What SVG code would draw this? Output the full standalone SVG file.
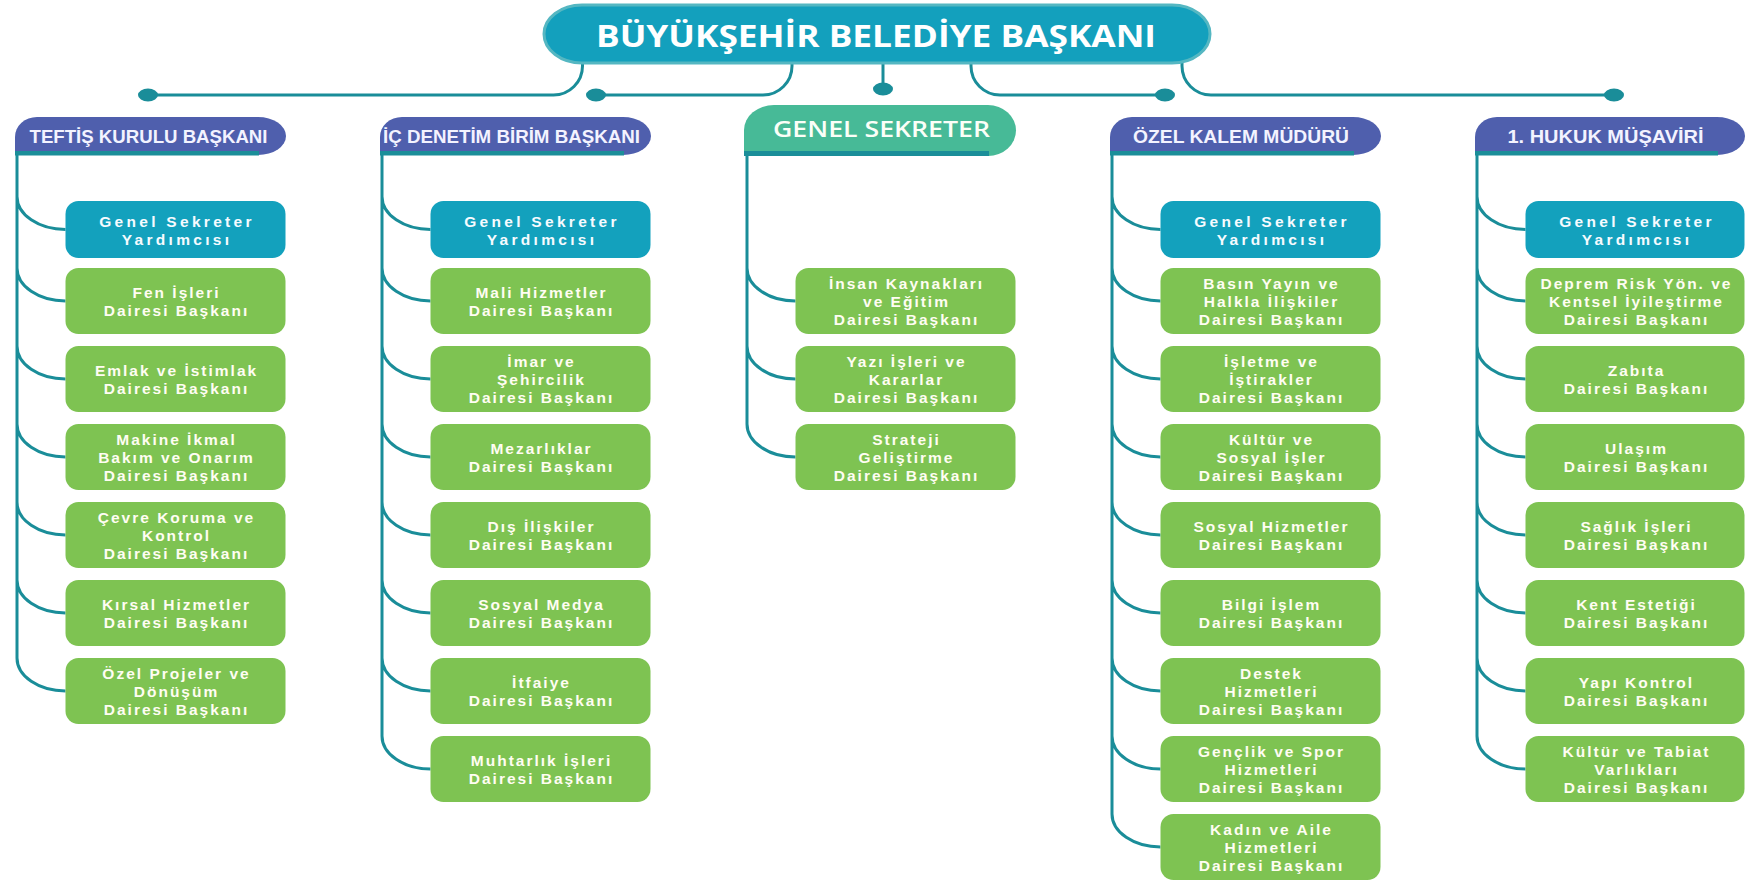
<svg xmlns="http://www.w3.org/2000/svg" width="1745" height="881" viewBox="0 0 1745 881">
<style>
.ln{fill:none;stroke:#1a8d99;stroke-width:3}
.dot{fill:#1a8d99}
.gsy{fill:#13a1bd}
.gb{fill:#7ec352}
.hdr{fill:#4f5fad}
.ul{fill:#1b8e99}
.t{font-family:"Liberation Sans",Arial,sans-serif;font-weight:bold;font-size:15.5px;fill:#fffdf2;text-anchor:middle;letter-spacing:2px}
.ty{font-family:"Liberation Sans",Arial,sans-serif;font-weight:bold;font-size:15.5px;fill:#f6fbff;text-anchor:middle;letter-spacing:3.3px}
.h{font-family:"Liberation Sans",Arial,sans-serif;font-weight:bold;font-size:17.5px;fill:#f3f3ff;text-anchor:middle}
</style>
<rect width="1745" height="881" fill="#ffffff"/>
<g id="connectors">
<path class="ln" d="M582.5,63 V66 A29,29 0 0 1 553.5,95 H148"/>
<path class="ln" d="M792,63 V66 A29,29 0 0 1 763,95 H596"/>
<path class="ln" d="M883,63 V88"/>
<path class="ln" d="M971,63 V66 A29,29 0 0 0 1000,95 H1165"/>
<path class="ln" d="M1182,63 V66 A29,29 0 0 0 1211,95 H1614"/>
<ellipse class="dot" cx="148" cy="95" rx="10" ry="6.5"/>
<ellipse class="dot" cx="596" cy="95" rx="10" ry="6.5"/>
<ellipse class="dot" cx="883" cy="89" rx="10" ry="6.5"/>
<ellipse class="dot" cx="1165" cy="95" rx="10" ry="6.5"/>
<ellipse class="dot" cx="1614" cy="95" rx="10" ry="6.5"/>
<path class="ln" d="M17,155 V658 M17,196.5 A48.5,33 0 0 0 65.5,229.5 M17,268 A48.5,33 0 0 0 65.5,301 M17,346 A48.5,33 0 0 0 65.5,379 M17,424 A48.5,33 0 0 0 65.5,457 M17,502 A48.5,33 0 0 0 65.5,535 M17,580 A48.5,33 0 0 0 65.5,613 M17,658 A48.5,33 0 0 0 65.5,691"/>
<path class="ln" d="M382,155 V736 M382,196.5 A48.5,33 0 0 0 430.5,229.5 M382,268 A48.5,33 0 0 0 430.5,301 M382,346 A48.5,33 0 0 0 430.5,379 M382,424 A48.5,33 0 0 0 430.5,457 M382,502 A48.5,33 0 0 0 430.5,535 M382,580 A48.5,33 0 0 0 430.5,613 M382,658 A48.5,33 0 0 0 430.5,691 M382,736 A48.5,33 0 0 0 430.5,769"/>
<path class="ln" d="M747,155 V424 M747,268 A48.5,33 0 0 0 795.5,301 M747,346 A48.5,33 0 0 0 795.5,379 M747,424 A48.5,33 0 0 0 795.5,457"/>
<path class="ln" d="M1112,155 V814 M1112,196.5 A48.5,33 0 0 0 1160.5,229.5 M1112,268 A48.5,33 0 0 0 1160.5,301 M1112,346 A48.5,33 0 0 0 1160.5,379 M1112,424 A48.5,33 0 0 0 1160.5,457 M1112,502 A48.5,33 0 0 0 1160.5,535 M1112,580 A48.5,33 0 0 0 1160.5,613 M1112,658 A48.5,33 0 0 0 1160.5,691 M1112,736 A48.5,33 0 0 0 1160.5,769 M1112,814 A48.5,33 0 0 0 1160.5,847"/>
<path class="ln" d="M1477,155 V736 M1477,196.5 A48.5,33 0 0 0 1525.5,229.5 M1477,268 A48.5,33 0 0 0 1525.5,301 M1477,346 A48.5,33 0 0 0 1525.5,379 M1477,424 A48.5,33 0 0 0 1525.5,457 M1477,502 A48.5,33 0 0 0 1525.5,535 M1477,580 A48.5,33 0 0 0 1525.5,613 M1477,658 A48.5,33 0 0 0 1525.5,691 M1477,736 A48.5,33 0 0 0 1525.5,769"/>
</g>

<g id="baskan">
<rect x="544" y="5" width="666" height="58" rx="38" ry="29" fill="#13a0bd" stroke="#55b7c2" stroke-width="3"/>
<text x="876" y="46.5" textLength="560" lengthAdjust="spacingAndGlyphs" style="font-family:'Open Sans','Liberation Sans',sans-serif;font-weight:bold;font-size:30px;fill:#ffffff;text-anchor:middle">BÜYÜKŞEHİR BELEDİYE BAŞKANI</text>
</g>

<g id="teftis">
<path class="hdr" d="M15,155 V137 A22,20 0 0 1 37,117 H258 A28,19 0 0 1 258,155 Z"/>
<rect class="ul" x="15" y="151" width="244" height="4.5"/>
<text class="h" x="148.5" y="143" textLength="238" lengthAdjust="spacingAndGlyphs">TEFTİŞ KURULU BAŞKANI</text>
</g>
<g id="icdenetim">
<path class="hdr" d="M380,155 V137 A22,20 0 0 1 402,117 H623 A28,19 0 0 1 623,155 Z"/>
<rect class="ul" x="380" y="151" width="244" height="4.5"/>
<text class="h" x="511.5" y="143" textLength="257" lengthAdjust="spacingAndGlyphs">İÇ DENETİM BİRİM BAŞKANI</text>
</g>
<g id="genelsekreter">
<path d="M744,156 V130 A30,25 0 0 1 774,105 H988 A28,25.5 0 0 1 988,156 Z" fill="#47ba97"/>
<rect class="ul" x="744" y="151" width="245" height="5"/>
<text x="881.5" y="137" textLength="217" lengthAdjust="spacingAndGlyphs" style="font-family:'Open Sans','Liberation Sans',sans-serif;font-weight:600;font-size:22px;fill:#fbfff8;text-anchor:middle">GENEL SEKRETER</text>
</g>
<g id="ozelkalem">
<path class="hdr" d="M1110,155 V137 A22,20 0 0 1 1132,117 H1353 A28,19 0 0 1 1353,155 Z"/>
<rect class="ul" x="1110" y="151" width="244" height="4.5"/>
<text class="h" x="1241" y="143" textLength="216" lengthAdjust="spacingAndGlyphs">ÖZEL KALEM MÜDÜRÜ</text>
</g>
<g id="hukuk">
<path class="hdr" d="M1475,155 V137 A22,20 0 0 1 1497,117 H1717 A28,19 0 0 1 1717,155 Z"/>
<rect class="ul" x="1475" y="151" width="243" height="4.5"/>
<text class="h" x="1605.5" y="143" textLength="196" lengthAdjust="spacingAndGlyphs">1. HUKUK MÜŞAVİRİ</text>
</g>

<!-- Column 1: Teftis -->
<g id="c1-gsy"><rect class="gsy" x="65.5" y="201" width="220" height="57" rx="13"/><text class="ty"><tspan x="177" y="226.5">Genel Sekreter</tspan><tspan x="177" y="244.5">Yardımcısı</tspan></text></g>
<g id="c1-fen"><rect class="gb" x="65.5" y="268" width="220" height="66" rx="13"/><text class="t"><tspan x="176.5" y="298">Fen İşleri</tspan><tspan x="176.5" y="316">Dairesi Başkanı</tspan></text></g>
<g id="c1-emlak"><rect class="gb" x="65.5" y="346" width="220" height="66" rx="13"/><text class="t"><tspan x="176.5" y="376">Emlak ve İstimlak</tspan><tspan x="176.5" y="394">Dairesi Başkanı</tspan></text></g>
<g id="c1-makine"><rect class="gb" x="65.5" y="424" width="220" height="66" rx="13"/><text class="t"><tspan x="176.5" y="445">Makine İkmal</tspan><tspan x="176.5" y="463">Bakım ve Onarım</tspan><tspan x="176.5" y="481">Dairesi Başkanı</tspan></text></g>
<g id="c1-cevre"><rect class="gb" x="65.5" y="502" width="220" height="66" rx="13"/><text class="t"><tspan x="176.5" y="523">Çevre Koruma ve</tspan><tspan x="176.5" y="541">Kontrol</tspan><tspan x="176.5" y="559">Dairesi Başkanı</tspan></text></g>
<g id="c1-kirsal"><rect class="gb" x="65.5" y="580" width="220" height="66" rx="13"/><text class="t"><tspan x="176.5" y="610">Kırsal Hizmetler</tspan><tspan x="176.5" y="628">Dairesi Başkanı</tspan></text></g>
<g id="c1-ozelprojeler"><rect class="gb" x="65.5" y="658" width="220" height="66" rx="13"/><text class="t"><tspan x="176.5" y="679">Özel Projeler ve</tspan><tspan x="176.5" y="697">Dönüşüm</tspan><tspan x="176.5" y="715">Dairesi Başkanı</tspan></text></g>

<!-- Column 2: Ic Denetim -->
<g id="c2-gsy"><rect class="gsy" x="430.5" y="201" width="220" height="57" rx="13"/><text class="ty"><tspan x="542" y="226.5">Genel Sekreter</tspan><tspan x="542" y="244.5">Yardımcısı</tspan></text></g>
<g id="c2-mali"><rect class="gb" x="430.5" y="268" width="220" height="66" rx="13"/><text class="t"><tspan x="541.5" y="298">Mali Hizmetler</tspan><tspan x="541.5" y="316">Dairesi Başkanı</tspan></text></g>
<g id="c2-imar"><rect class="gb" x="430.5" y="346" width="220" height="66" rx="13"/><text class="t"><tspan x="541.5" y="367">İmar ve</tspan><tspan x="541.5" y="385">Şehircilik</tspan><tspan x="541.5" y="403">Dairesi Başkanı</tspan></text></g>
<g id="c2-mezarlik"><rect class="gb" x="430.5" y="424" width="220" height="66" rx="13"/><text class="t"><tspan x="541.5" y="454">Mezarlıklar</tspan><tspan x="541.5" y="472">Dairesi Başkanı</tspan></text></g>
<g id="c2-dis"><rect class="gb" x="430.5" y="502" width="220" height="66" rx="13"/><text class="t"><tspan x="541.5" y="532">Dış İlişkiler</tspan><tspan x="541.5" y="550">Dairesi Başkanı</tspan></text></g>
<g id="c2-sosyalmedya"><rect class="gb" x="430.5" y="580" width="220" height="66" rx="13"/><text class="t"><tspan x="541.5" y="610">Sosyal Medya</tspan><tspan x="541.5" y="628">Dairesi Başkanı</tspan></text></g>
<g id="c2-itfaiye"><rect class="gb" x="430.5" y="658" width="220" height="66" rx="13"/><text class="t"><tspan x="541.5" y="688">İtfaiye</tspan><tspan x="541.5" y="706">Dairesi Başkanı</tspan></text></g>
<g id="c2-muhtarlik"><rect class="gb" x="430.5" y="736" width="220" height="66" rx="13"/><text class="t"><tspan x="541.5" y="766">Muhtarlık İşleri</tspan><tspan x="541.5" y="784">Dairesi Başkanı</tspan></text></g>

<!-- Column 3: Genel Sekreter -->
<g id="c3-insan"><rect class="gb" x="795.5" y="268" width="220" height="66" rx="13"/><text class="t"><tspan x="906.5" y="289">İnsan Kaynakları</tspan><tspan x="906.5" y="307">ve Eğitim</tspan><tspan x="906.5" y="325">Dairesi Başkanı</tspan></text></g>
<g id="c3-yazi"><rect class="gb" x="795.5" y="346" width="220" height="66" rx="13"/><text class="t"><tspan x="906.5" y="367">Yazı İşleri ve</tspan><tspan x="906.5" y="385">Kararlar</tspan><tspan x="906.5" y="403">Dairesi Başkanı</tspan></text></g>
<g id="c3-strateji"><rect class="gb" x="795.5" y="424" width="220" height="66" rx="13"/><text class="t"><tspan x="906.5" y="445">Strateji</tspan><tspan x="906.5" y="463">Geliştirme</tspan><tspan x="906.5" y="481">Dairesi Başkanı</tspan></text></g>

<!-- Column 4: Ozel Kalem -->
<g id="c4-gsy"><rect class="gsy" x="1160.5" y="201" width="220" height="57" rx="13"/><text class="ty"><tspan x="1272" y="226.5">Genel Sekreter</tspan><tspan x="1272" y="244.5">Yardımcısı</tspan></text></g>
<g id="c4-basin"><rect class="gb" x="1160.5" y="268" width="220" height="66" rx="13"/><text class="t"><tspan x="1271.5" y="289">Basın Yayın ve</tspan><tspan x="1271.5" y="307">Halkla İlişkiler</tspan><tspan x="1271.5" y="325">Dairesi Başkanı</tspan></text></g>
<g id="c4-isletme"><rect class="gb" x="1160.5" y="346" width="220" height="66" rx="13"/><text class="t"><tspan x="1271.5" y="367">İşletme ve</tspan><tspan x="1271.5" y="385">İştirakler</tspan><tspan x="1271.5" y="403">Dairesi Başkanı</tspan></text></g>
<g id="c4-kultur"><rect class="gb" x="1160.5" y="424" width="220" height="66" rx="13"/><text class="t"><tspan x="1271.5" y="445">Kültür ve</tspan><tspan x="1271.5" y="463">Sosyal İşler</tspan><tspan x="1271.5" y="481">Dairesi Başkanı</tspan></text></g>
<g id="c4-sosyalhizmet"><rect class="gb" x="1160.5" y="502" width="220" height="66" rx="13"/><text class="t"><tspan x="1271.5" y="532">Sosyal Hizmetler</tspan><tspan x="1271.5" y="550">Dairesi Başkanı</tspan></text></g>
<g id="c4-bilgi"><rect class="gb" x="1160.5" y="580" width="220" height="66" rx="13"/><text class="t"><tspan x="1271.5" y="610">Bilgi İşlem</tspan><tspan x="1271.5" y="628">Dairesi Başkanı</tspan></text></g>
<g id="c4-destek"><rect class="gb" x="1160.5" y="658" width="220" height="66" rx="13"/><text class="t"><tspan x="1271.5" y="679">Destek</tspan><tspan x="1271.5" y="697">Hizmetleri</tspan><tspan x="1271.5" y="715">Dairesi Başkanı</tspan></text></g>
<g id="c4-genclik"><rect class="gb" x="1160.5" y="736" width="220" height="66" rx="13"/><text class="t"><tspan x="1271.5" y="757">Gençlik ve Spor</tspan><tspan x="1271.5" y="775">Hizmetleri</tspan><tspan x="1271.5" y="793">Dairesi Başkanı</tspan></text></g>
<g id="c4-kadin"><rect class="gb" x="1160.5" y="814" width="220" height="66" rx="13"/><text class="t"><tspan x="1271.5" y="835">Kadın ve Aile</tspan><tspan x="1271.5" y="853">Hizmetleri</tspan><tspan x="1271.5" y="871">Dairesi Başkanı</tspan></text></g>

<!-- Column 5: Hukuk -->
<g id="c5-gsy"><rect class="gsy" x="1525.5" y="201" width="219" height="57" rx="13"/><text class="ty"><tspan x="1637" y="226.5">Genel Sekreter</tspan><tspan x="1637" y="244.5">Yardımcısı</tspan></text></g>
<g id="c5-deprem"><rect class="gb" x="1525.5" y="268" width="219" height="66" rx="13"/><text class="t"><tspan x="1636.5" y="289">Deprem Risk Yön. ve</tspan><tspan x="1636.5" y="307">Kentsel İyileştirme</tspan><tspan x="1636.5" y="325">Dairesi Başkanı</tspan></text></g>
<g id="c5-zabita"><rect class="gb" x="1525.5" y="346" width="219" height="66" rx="13"/><text class="t"><tspan x="1636.5" y="376">Zabıta</tspan><tspan x="1636.5" y="394">Dairesi Başkanı</tspan></text></g>
<g id="c5-ulasim"><rect class="gb" x="1525.5" y="424" width="219" height="66" rx="13"/><text class="t"><tspan x="1636.5" y="454">Ulaşım</tspan><tspan x="1636.5" y="472">Dairesi Başkanı</tspan></text></g>
<g id="c5-saglik"><rect class="gb" x="1525.5" y="502" width="219" height="66" rx="13"/><text class="t"><tspan x="1636.5" y="532">Sağlık İşleri</tspan><tspan x="1636.5" y="550">Dairesi Başkanı</tspan></text></g>
<g id="c5-kent"><rect class="gb" x="1525.5" y="580" width="219" height="66" rx="13"/><text class="t"><tspan x="1636.5" y="610">Kent Estetiği</tspan><tspan x="1636.5" y="628">Dairesi Başkanı</tspan></text></g>
<g id="c5-yapi"><rect class="gb" x="1525.5" y="658" width="219" height="66" rx="13"/><text class="t"><tspan x="1636.5" y="688">Yapı Kontrol</tspan><tspan x="1636.5" y="706">Dairesi Başkanı</tspan></text></g>
<g id="c5-tabiat"><rect class="gb" x="1525.5" y="736" width="219" height="66" rx="13"/><text class="t"><tspan x="1636.5" y="757">Kültür ve Tabiat</tspan><tspan x="1636.5" y="775">Varlıkları</tspan><tspan x="1636.5" y="793">Dairesi Başkanı</tspan></text></g>
</svg>
